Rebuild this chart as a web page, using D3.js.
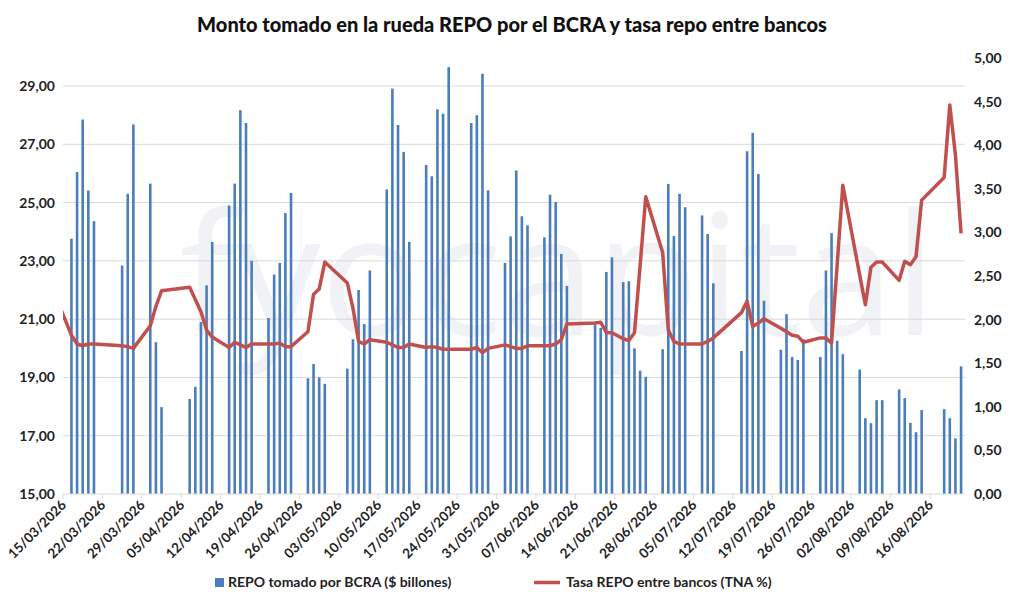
<!DOCTYPE html>
<html>
<head>
<meta charset="utf-8">
<script src="https://cdn.jsdelivr.net/npm/d3@7"></script>
<style>
  body { margin: 0; background: #fff; }
  text { font-family: Lato, "DejaVu Sans", sans-serif; }
</style>
</head>
<body>
<div id="chart"></div>
<script>
// Datos: REPO tomado por BCRA ($ billones), días hábiles
const barDates = [
  "16/03","17/03","18/03","19/03","20/03","25/03","26/03","27/03","30/03","31/03","01/04",
  "06/04","07/04","08/04","09/04","10/04","13/04","14/04","15/04","16/04","17/04",
  "20/04","21/04","22/04","23/04","24/04","27/04","28/04","29/04","30/04",
  "04/05","05/05","06/05","07/05","08/05","11/05","12/05","13/05","14/05","15/05",
  "18/05","19/05","20/05","21/05","22/05","26/05","27/05","28/05","29/05",
  "01/06","02/06","03/06","04/06","05/06","08/06","09/06","10/06","11/06","12/06",
  "17/06","18/06","19/06","20/06","22/06","23/06","24/06","25/06","26/06",
  "29/06","30/06","01/07","02/07","03/07","06/07","07/07","08/07",
  "13/07","14/07","15/07","16/07","17/07","20/07","21/07","22/07","23/07","24/07",
  "27/07","28/07","29/07","30/07","31/07","03/08","04/08","05/08","06/08","07/08",
  "10/08","11/08","12/08","13/08","14/08","18/08","19/08","20/08","21/08"
];
const barValues = [
  23.76,26.05,27.85,25.41,24.36,22.84,25.30,27.68,25.65,20.21,17.98,
  18.26,18.68,20.90,22.16,23.65,24.90,25.65,28.17,27.73,23.00,
  21.04,22.53,22.93,24.64,25.33,18.97,19.46,19.00,18.78,
  19.30,20.31,22.00,20.83,22.67,25.45,28.91,27.66,26.74,23.65,
  26.29,25.90,28.20,28.05,29.65,27.73,28.00,29.42,25.42,
  22.93,23.84,26.10,24.53,24.22,23.81,25.27,25.02,23.24,22.14,
  20.83,20.70,22.62,23.12,22.27,22.30,20.00,19.23,19.02,
  19.97,25.64,23.85,25.30,24.84,24.56,23.92,22.23,
  19.91,26.76,27.39,25.98,21.63,19.95,21.17,19.70,19.60,20.31,
  19.70,22.67,23.95,20.26,19.80,19.27,17.60,17.43,18.22,18.22,
  18.59,18.29,17.44,17.12,17.88,17.91,17.60,16.91,19.38
];
// Tasa REPO entre bancos (TNA %)
const rateDates = [
  "13/03","16/03","17/03","18/03","19/03","20/03","25/03","26/03","27/03","30/03","31/03","01/04",
  "06/04","07/04","08/04","09/04","10/04","13/04","14/04","15/04","16/04","17/04",
  "20/04","21/04","22/04","23/04","24/04","27/04","28/04","29/04","30/04",
  "04/05","05/05","06/05","07/05","08/05","11/05","12/05","13/05","14/05","15/05",
  "18/05","19/05","20/05","21/05","22/05","26/05","27/05","28/05","29/05",
  "01/06","02/06","03/06","04/06","05/06","08/06","09/06","10/06","11/06","12/06",
  "17/06","18/06","19/06","20/06","22/06","23/06","24/06","25/06","26/06",
  "29/06","30/06","01/07","02/07","03/07","06/07","07/07","08/07",
  "13/07","14/07","15/07","16/07","17/07","20/07","21/07","22/07","23/07","24/07",
  "27/07","28/07","29/07","30/07","31/07","03/08","04/08","05/08","06/08","07/08",
  "10/08","11/08","12/08","13/08","14/08","18/08","19/08","20/08","21/08"
];
const rateValues = [
  2.30,1.82,1.72,1.70,1.72,1.72,1.70,1.69,1.67,1.93,2.15,2.33,
  2.37,2.23,2.09,1.88,1.80,1.68,1.74,1.71,1.68,1.72,
  1.72,1.72,1.73,1.69,1.69,1.86,2.29,2.35,2.66,
  2.42,2.13,1.75,1.72,1.77,1.74,1.71,1.68,1.68,1.72,
  1.68,1.69,1.68,1.66,1.66,1.66,1.68,1.62,1.67,
  1.71,1.69,1.67,1.67,1.70,1.70,1.70,1.72,1.77,1.95,
  1.96,1.97,1.85,1.85,1.78,1.76,1.85,2.62,3.41,
  2.77,1.88,1.75,1.72,1.72,1.72,1.75,1.79,
  2.08,2.21,1.92,1.96,2.01,1.90,1.86,1.82,1.81,1.74,
  1.79,1.79,1.73,2.63,3.54,2.51,2.17,2.60,2.66,2.66,
  2.45,2.67,2.63,2.72,3.37,3.63,4.46,3.89,2.99
];
const tickDates = ["15/03","22/03","29/03","05/04","12/04","19/04","26/04","03/05","10/05","17/05",
  "24/05","31/05","07/06","14/06","21/06","28/06","05/07","12/07","19/07","26/07","02/08","09/08","16/08"];
const leftTicks = [15,17,19,21,23,25,27,29];
const rightTicks = [0,0.5,1,1.5,2,2.5,3,3.5,4,4.5,5];

const parse = s => d3.timeParse("%d/%m/%Y")(s + "/2026");
const DAY = 864e5;
const fmt = d3.format(".2f");
const comma = v => fmt(v).replace(".", ",");

const width = 1024, height = 610;
const mLeft = 63, mRight = 965, mTop = 58, mBottom = 494;

const svg = d3.select("#chart").append("svg")
  .attr("width", width).attr("height", height);

const start = parse("15/03");
const x = d3.scaleTime()
  .domain([start, new Date(+start + 160.2 * DAY)])
  .range([mLeft, mRight]);
const half = (x(new Date(+start + DAY)) - x(start)) / 2;
const yL = d3.scaleLinear().domain([15, 29]).range([mBottom, 86]);
const yR = d3.scaleLinear().domain([0, 5]).range([mBottom, mTop]);

// Marca de agua
svg.append("text")
  .attr("x", 180).attr("y", 335)
  .attr("font-size", 168).attr("fill", "#f1f2f5")
  .style("font-family", "'Open Sans', sans-serif")
  .text("fyocapital");

// Grilla
svg.append("g").selectAll("line").data(leftTicks.slice(1)).join("line")
  .attr("x1", mLeft).attr("x2", mRight)
  .attr("y1", d => yL(d)).attr("y2", d => yL(d))
  .attr("stroke", "#d9d9d9").attr("stroke-width", 1);

// Eje izquierdo
svg.append("g").selectAll("text").data(leftTicks).join("text")
  .attr("x", 55).attr("y", d => yL(d) + 5)
  .attr("text-anchor", "end").attr("font-size", 14).attr("font-weight", 700)
  .attr("fill", "#222").text(comma);

// Eje derecho
svg.append("g").selectAll("text").data(rightTicks).join("text")
  .attr("x", 974).attr("y", d => yR(d) + 5)
  .attr("font-size", 14).attr("font-weight", 700)
  .attr("fill", "#222").text(comma);

// Barras
svg.append("g").selectAll("rect").data(barDates).join("rect")
  .attr("x", (d) => x(parse(d)) + half - 1.3)
  .attr("width", 2.6)
  .attr("y", (d, i) => yL(barValues[i]))
  .attr("height", (d, i) => mBottom - yL(barValues[i]))
  .attr("fill", "#4a7ebb");

// Eje x
svg.append("line").attr("x1", mLeft).attr("x2", mRight)
  .attr("y1", mBottom).attr("y2", mBottom).attr("stroke", "#d9d9d9");
svg.append("g").selectAll("line").data(tickDates).join("line")
  .attr("x1", d => x(parse(d))).attr("x2", d => x(parse(d)))
  .attr("y1", mBottom).attr("y2", mBottom + 5).attr("stroke", "#d9d9d9");
svg.append("g").selectAll("text").data(tickDates).join("text")
  .attr("transform", d => `translate(${x(parse(d)) + 4},${mBottom + 12}) rotate(-45)`)
  .attr("text-anchor", "end").attr("font-size", 13.5).attr("font-weight", 700)
  .attr("fill", "#222").text(d => d + "/2026");

// Línea de tasa
svg.append("clipPath").attr("id", "clip").append("rect")
  .attr("x", mLeft).attr("y", 0).attr("width", mRight - mLeft + 5).attr("height", height);
const line = d3.line()
  .x(d => x(parse(d)) + half)
  .y((d, i) => yR(rateValues[i]));
svg.append("path").datum(rateDates)
  .attr("clip-path", "url(#clip)")
  .attr("d", line).attr("fill", "none")
  .attr("stroke", "#c0504d").attr("stroke-width", 3.5)
  .attr("stroke-linejoin", "round");

// Título
svg.append("text").attr("x", 512).attr("y", 32)
  .attr("text-anchor", "middle").attr("font-size", 20).attr("font-weight", 900)
  .attr("fill", "#111")
  .text("Monto tomado en la rueda REPO por el BCRA y tasa repo entre bancos");

// Leyenda
const lg = svg.append("g").attr("transform", "translate(0,584)");
lg.append("rect").attr("x", 215).attr("y", -6).attr("width", 9).attr("height", 9).attr("fill", "#4a7ebb");
lg.append("text").attr("x", 228).attr("y", 3).attr("font-size", 14).attr("font-weight", 700)
  .attr("fill", "#222").text("REPO tomado por BCRA ($ billones)");
lg.append("line").attr("x1", 534).attr("x2", 560).attr("y1", -1.5).attr("y2", -1.5)
  .attr("stroke", "#c0504d").attr("stroke-width", 3.5);
lg.append("text").attr("x", 566).attr("y", 3).attr("font-size", 14).attr("font-weight", 700)
  .attr("fill", "#222").text("Tasa REPO entre bancos (TNA %)");
</script>
</body>
</html>
